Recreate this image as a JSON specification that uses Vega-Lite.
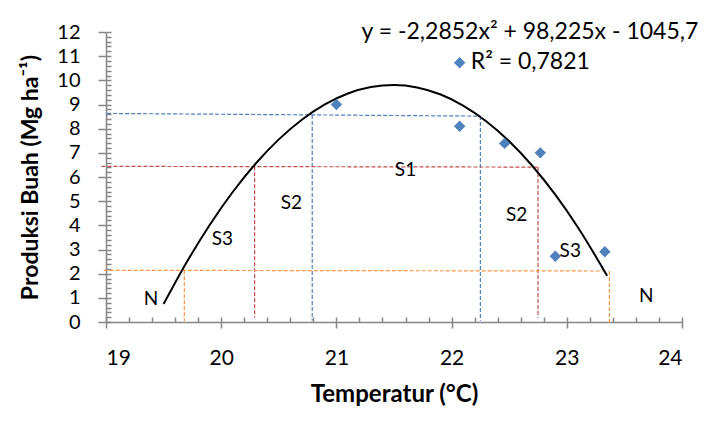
{
  "$schema": "https://vega.github.io/schema/vega-lite/v6.json",
  "width": 576,
  "height": 290,
  "autosize": "none",
  "padding": {"left": 106, "top": 32, "right": 33, "bottom": 100},
  "background": "white",
  "config": {"view": {"stroke": null}, "font": "Lato", "axis": {"grid": false}},
  "datasets": {
    "titik": [
      {"suhu": 21.0, "prod": 9.0},
      {"suhu": 22.07, "prod": 8.1},
      {"suhu": 22.46, "prod": 7.39},
      {"suhu": 22.77, "prod": 7.0},
      {"suhu": 22.9, "prod": 2.72},
      {"suhu": 23.33, "prod": 2.91},
      {"suhu": 22.07, "prod": 10.73}
    ],
    "kurva": [
      {"suhu": 19.5, "prod": 0.741},
      {"suhu": 19.7, "prod": 2.47},
      {"suhu": 19.9, "prod": 4.016},
      {"suhu": 20.1, "prod": 5.379},
      {"suhu": 20.3, "prod": 6.56},
      {"suhu": 20.5, "prod": 7.557},
      {"suhu": 20.7, "prod": 8.372},
      {"suhu": 20.9, "prod": 9.004},
      {"suhu": 21.1, "prod": 9.454},
      {"suhu": 21.3, "prod": 9.72},
      {"suhu": 21.5, "prod": 9.804},
      {"suhu": 21.7, "prod": 9.705},
      {"suhu": 21.9, "prod": 9.423},
      {"suhu": 22.1, "prod": 8.958},
      {"suhu": 22.3, "prod": 8.31},
      {"suhu": 22.5, "prod": 7.48},
      {"suhu": 22.7, "prod": 6.466},
      {"suhu": 22.9, "prod": 5.27},
      {"suhu": 23.1, "prod": 3.891},
      {"suhu": 23.35, "prod": 1.911}
    ],
    "garis": [
      {"batas": "S1", "x1": 19.01, "y1": 8.63, "x2": 22.25, "y2": 8.52},
      {"batas": "S1", "x1": 20.79, "y1": 8.57, "x2": 20.79, "y2": 0.06},
      {"batas": "S1", "x1": 22.25, "y1": 8.52, "x2": 22.25, "y2": 0.05},
      {"batas": "S2", "x1": 18.96, "y1": 6.44, "x2": 22.75, "y2": 6.41},
      {"batas": "S2", "x1": 20.29, "y1": 6.44, "x2": 20.29, "y2": 0.18},
      {"batas": "S2", "x1": 22.75, "y1": 6.41, "x2": 22.75, "y2": 0.18},
      {"batas": "S3", "x1": 18.98, "y1": 2.14, "x2": 23.35, "y2": 2.11},
      {"batas": "S3", "x1": 19.68, "y1": 2.14, "x2": 19.68, "y2": 0.04},
      {"batas": "S3", "x1": 23.37, "y1": 2.11, "x2": 23.37, "y2": -0.14}
    ],
    "kelas": [
      {"lbl": "S1", "x": 21.6, "y": 6.31},
      {"lbl": "S2", "x": 20.61, "y": 4.91},
      {"lbl": "S2", "x": 22.565, "y": 4.43},
      {"lbl": "S3", "x": 20.01, "y": 3.42},
      {"lbl": "S3", "x": 23.03, "y": 2.94},
      {"lbl": "N", "x": 19.39, "y": 0.94},
      {"lbl": "N", "x": 23.69, "y": 1.08}
    ],
    "persamaan": [
      {"lbl": "y = -2,2852x² + 98,225x - 1045,7", "x": 22.68, "y": 12.02}
    ],
    "r2": [
      {"lbl": "R² = 0,7821", "x": 22.166, "y": 10.74}
    ]
  },
  "layer": [
    {
      "data": {"name": "garis"},
      "mark": {"type": "rule", "strokeDash": [4, 2], "strokeWidth": 1.2},
      "encoding": {
        "x": {"field": "x1", "type": "quantitative", "scale": {"domain": [19, 24], "nice": false, "zero": false}, "axis": null},
        "x2": {"field": "x2"},
        "y": {"field": "y1", "type": "quantitative", "scale": {"domain": [0, 12], "nice": false}, "axis": null},
        "y2": {"field": "y2"},
        "color": {"field": "batas", "type": "nominal", "scale": {"domain": ["S1", "S2", "S3"], "range": ["#4F81BD", "#C0504D", "#F79646"]}, "legend": null}
      }
    },
    {
      "data": {"name": "kurva"},
      "mark": {"type": "line", "color": "black", "strokeWidth": 2, "interpolate": "monotone"},
      "encoding": {
        "x": {"field": "suhu", "type": "quantitative", "axis": {"orient": "bottom", "values": [19,19.2,19.4,19.6,19.8,20,20.2,20.4,20.6,20.8,21,21.2,21.4,21.6,21.8,22,22.2,22.4,22.6,22.8,23,23.2,23.4,23.6,23.8,24], "tickSize": -5, "tickColor": "#868686", "tickWidth": 1.5, "labels": false, "domain": false, "title": null}},
        "y": {"field": "prod", "type": "quantitative", "axis": {"orient": "left", "values": [0,0.2,0.4,0.6,0.8,1,1.2,1.4,1.6,1.8,2,2.2,2.4,2.6,2.8,3,3.2,3.4,3.6,3.8,4,4.2,4.4,4.6,4.8,5,5.2,5.4,5.6,5.8,6,6.2,6.4,6.6,6.8,7,7.2,7.4,7.6,7.8,8,8.2,8.4,8.6,8.8,9,9.2,9.4,9.6,9.8,10,10.2,10.4,10.6,10.8,11,11.2,11.4,11.6,11.8,12], "tickSize": -5, "tickColor": "#868686", "tickWidth": 1.5, "labels": false, "domain": false, "title": null}}
      }
    },
    {
      "data": {"name": "titik"},
      "mark": {"type": "point", "shape": "diamond", "filled": true, "size": 130, "color": "#4F81BD", "opacity": 1},
      "encoding": {
        "x": {"field": "suhu", "type": "quantitative", "axis": {"orient": "bottom", "values": [19, 20, 21, 22, 23, 24], "tickSize": 6, "tickColor": "#868686", "tickWidth": 1.5, "domainColor": "#868686", "domainWidth": 1.5, "labelFont": "Lato", "labelFontSize": 21, "labelColor": "black", "labelPadding": 19, "title": "Temperatur (°C)", "titleFont": "Lato", "titleFontSize": 24, "titleFontWeight": "bold", "titleColor": "black", "titlePadding": 14}},
        "y": {"field": "prod", "type": "quantitative", "axis": {"orient": "left", "values": [0,1,2,3,4,5,6,7,8,9,10,11,12], "tickSize": 8, "tickColor": "#868686", "tickWidth": 1.5, "domainColor": "#868686", "domainWidth": 1.5, "labelFont": "Lato", "labelFontSize": 20, "labelColor": "black", "labelPadding": 18, "title": "Produksi Buah (Mg ha⁻¹)", "titleFont": "Lato", "titleFontSize": 23, "titleFontWeight": "bold", "titleColor": "black", "titlePadding": 14}}
      }
    },
    {
      "data": {"name": "kelas"},
      "mark": {"type": "text", "font": "Lato", "fontSize": 19, "color": "black", "align": "center", "baseline": "middle"},
      "encoding": {
        "x": {"field": "x", "type": "quantitative", "axis": null},
        "y": {"field": "y", "type": "quantitative", "axis": null},
        "text": {"field": "lbl"}
      }
    },
    {
      "data": {"name": "persamaan"},
      "mark": {"type": "text", "font": "Lato", "fontSize": 23, "color": "black", "align": "center", "baseline": "middle"},
      "encoding": {
        "x": {"field": "x", "type": "quantitative", "axis": null},
        "y": {"field": "y", "type": "quantitative", "axis": null},
        "text": {"field": "lbl"}
      }
    },
    {
      "data": {"name": "r2"},
      "mark": {"type": "text", "font": "Lato", "fontSize": 23, "color": "black", "align": "left", "baseline": "middle"},
      "encoding": {
        "x": {"field": "x", "type": "quantitative", "axis": null},
        "y": {"field": "y", "type": "quantitative", "axis": null},
        "text": {"field": "lbl"}
      }
    }
  ],
  "resolve": {"axis": {"x": "independent", "y": "independent"}}
}
